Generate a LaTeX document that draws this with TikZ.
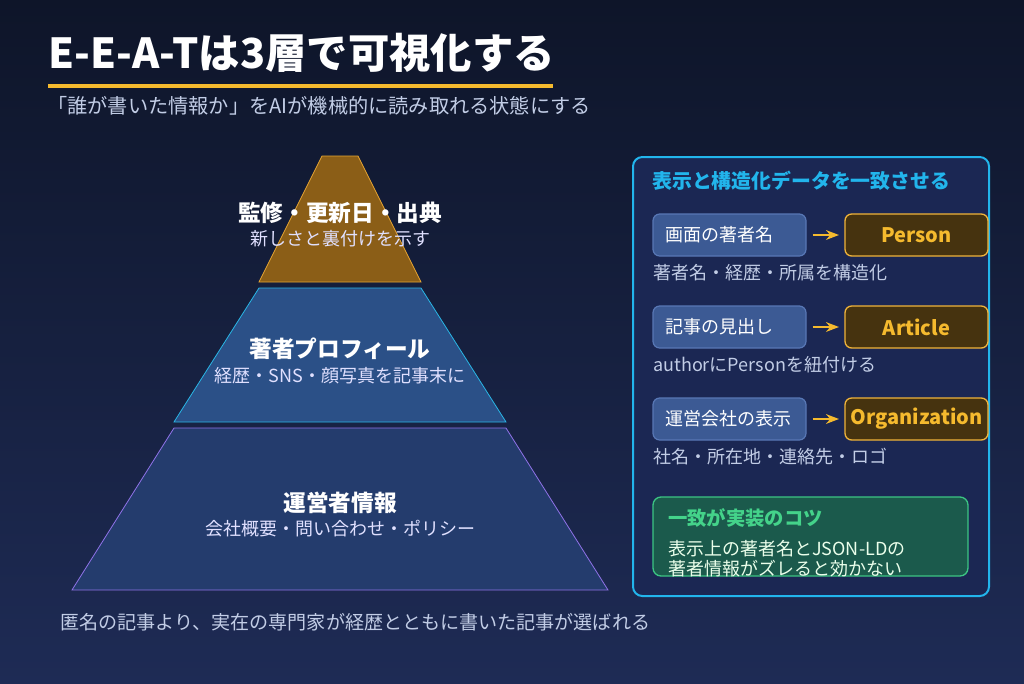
\documentclass[tikz,border=0pt]{standalone}
\usepackage{fontspec}
\setmainfont{Noto Sans CJK JP}
\usetikzlibrary{positioning, arrows.meta, calc}

\definecolor{bgtop}{HTML}{0E1529}
\definecolor{bgbot}{HTML}{1E2B55}
\definecolor{gold}{HTML}{F5BA2E}
\definecolor{paletxt}{HTML}{C2CDE6}
\definecolor{topfill}{HTML}{8B5E17}
\definecolor{topedge}{HTML}{E6A532}
\definecolor{midfill}{HTML}{2B5087}
\definecolor{midedge}{HTML}{29B6E6}
\definecolor{botfill}{HTML}{243C6D}
\definecolor{botedge}{HTML}{8F72E8}
\definecolor{panelfill}{HTML}{1B2753}
\definecolor{paneledge}{HTML}{22B5EC}
\definecolor{srcfill}{HTML}{3C5A94}
\definecolor{srcedge}{HTML}{5877B5}
\definecolor{tgtfill}{HTML}{46330F}
\definecolor{tgtedge}{HTML}{F0B43A}
\definecolor{tipfill}{HTML}{1B5A4C}
\definecolor{tipedge}{HTML}{3CC483}
\definecolor{tiptxt}{HTML}{44D38A}

\begin{document}
\begin{tikzpicture}[
    x=0.75pt, y=-0.75pt,
    >=Stealth,
    % --- Styles ---
    main_title/.style={anchor=west, inner sep=0pt, font=\fontsize{31}{35}\selectfont\bfseries, text=white},
    sub_title/.style={anchor=west, inner sep=0pt, font=\fontsize{15.15}{18}\selectfont, text=paletxt},
    layer_head/.style={inner sep=0pt, font=\fontsize{17}{20}\selectfont\bfseries, text=white},
    layer_note/.style={inner sep=0pt, font=\fontsize{13.5}{16}\selectfont, text=white!88!blue},
    panel_box/.style={draw=paneledge, fill=panelfill, line width=1.5pt, rounded corners=7pt, minimum width=267pt, minimum height=329.25pt, inner sep=0pt},
    panel_head/.style={anchor=west, inner sep=0pt, font=\fontsize{14.9}{18}\selectfont\bfseries, text=paneledge},
    src_box/.style={draw=srcedge, fill=srcfill, line width=0.9pt, rounded corners=5pt, minimum height=31.5pt, text width=96.75pt, inner xsep=9pt, inner ysep=0pt, align=left, font=\fontsize{13.5}{16}\selectfont, text=white},
    tgt_box/.style={draw=tgtedge, fill=tgtfill, line width=1pt, rounded corners=5pt, minimum height=31.5pt, minimum width=107.25pt, inner sep=0pt, font=\fontsize{15}{18}\selectfont\bfseries, text=gold},
    caption_text/.style={anchor=west, inner sep=0pt, font=\fontsize{13.5}{16}\selectfont, text=paletxt},
    map_arrow/.style={->, draw=gold, line width=1.5pt, shorten <=4.5pt, shorten >=4pt},
    tip_box/.style={draw=tipedge, fill=tipfill, line width=1pt, rounded corners=6pt, minimum width=236.25pt, minimum height=59.25pt, inner sep=0pt},
    tip_head/.style={anchor=west, inner sep=0pt, font=\fontsize{14.5}{18}\selectfont\bfseries, text=tiptxt},
    tip_text/.style={anchor=west, inner sep=0pt, font=\fontsize{13.5}{16}\selectfont, text=white!92!green},
]

    % ==========================
    % 0. BACKGROUND
    % ==========================
    \useasboundingbox (0,0) rectangle (1024,683);
    \shade[top color=bgtop, bottom color=bgbot] (0,0) rectangle (1024,683);

    % ==========================
    % 1. HEADER
    % ==========================
    \node[main_title] (title) at (48,53) {E-E-A-Tは3層で可視化する};
    \coordinate (ul_l) at (48,86);
    \coordinate (ul_r) at (553,86);
    \draw[gold, line width=3pt] (ul_l) -- (ul_r);
    \node[sub_title] (subtitle) at (47,106) {「誰が書いた情報か」をAIが機械的に読み取れる状態にする};

    % ==========================
    % 2. PYRAMID (Left)
    % ==========================
    \filldraw[fill=topfill, draw=topedge, line width=0.6pt] (322,156) -- (358,156) -- (421,282) -- (259,282) -- cycle;
    \filldraw[fill=midfill, draw=midedge, line width=0.6pt] (259,288) -- (421,288) -- (506,422) -- (174,422) -- cycle;
    \filldraw[fill=botfill, draw=botedge, line width=0.6pt] (174,428) -- (506,428) -- (608,590) -- (72,590) -- cycle;

    \node[layer_head] (top_head) at (340,213) {監修・更新日・出典};
    \node[layer_note] (top_note) at (340,239) {新しさと裏付けを示す};
    \node[layer_head] (mid_head) at (340,349) {著者プロフィール};
    \node[layer_note] (mid_note) at (340,376) {経歴・SNS・顔写真を記事末に};
    \node[layer_head] (bot_head) at (340,503) {運営者情報};
    \node[layer_note] (bot_note) at (340,529) {会社概要・問い合わせ・ポリシー};

    \node[sub_title, font=\fontsize{14.3}{17}\selectfont] (footer) at (60,622) {匿名の記事より、実在の専門家が経歴とともに書いた記事が選ばれる};

    % ==========================
    % 3. MATCHING PANEL (Right)
    % ==========================
    \node[panel_box] (panel) at (811,376.5) {};
    \node[panel_head] (panel_head) at (652,181) {表示と構造化データを一致させる};

    \node[src_box] (src1) at (729.5,235) {画面の著者名};
    \node[tgt_box] (tgt1) at (916.5,235) {Person};
    \draw[map_arrow] (src1) -- (tgt1);
    \node[caption_text] (cap1) at (653,273) {著者名・経歴・所属を構造化};

    \node[src_box] (src2) at (729.5,327) {記事の見出し};
    \node[tgt_box] (tgt2) at (916.5,327) {Article};
    \draw[map_arrow] (src2) -- (tgt2);
    \node[caption_text] (cap2) at (653,365) {authorにPersonを紐付ける};

    \node[src_box] (src3) at (729.5,419) {運営会社の表示};
    \node[tgt_box] (tgt3) at (916.5,419) {Organization};
    \draw[map_arrow] (src3) -- (tgt3);
    \node[caption_text] (cap3) at (653,457) {社名・所在地・連絡先・ロゴ};

    % Tip box
    \node[tip_box] (tip) at (810.5,536.5) {};
    \node[tip_head] (tip_head) at (668,518) {一致が実装のコツ};
    \node[tip_text] (tip_l1) at (668,549) {表示上の著者名とJSON-LDの};
    \node[tip_text] (tip_l2) at (668,569) {著者情報がズレると効かない};

\end{tikzpicture}
\end{document}
